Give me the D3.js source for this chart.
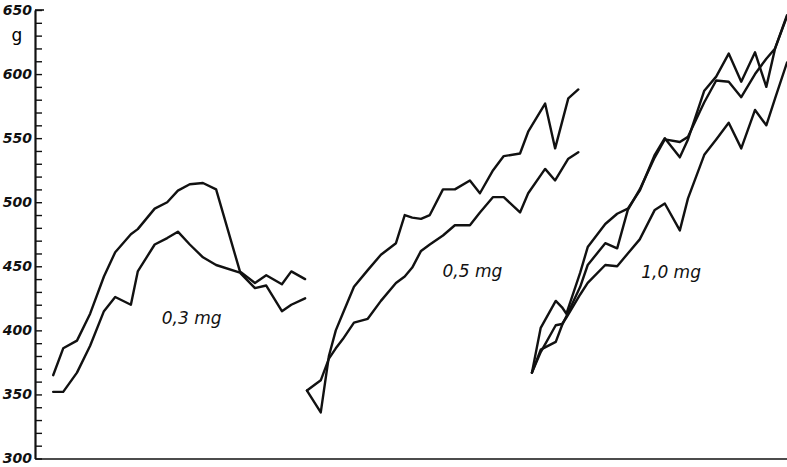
<!DOCTYPE html>
<html>
<head>
<meta charset="utf-8">
<script src="https://cdn.jsdelivr.net/npm/d3@7"></script>
<style>
    html, body { margin: 0; padding: 0; background: #fff; }
    svg { display: block; }
    .curve { fill: none; stroke: #111; stroke-width: 2.4; stroke-linejoin: round; stroke-linecap: round; }
    .axis path, .axis line { stroke: #111; }
    .axis text { font-family: "DejaVu Sans", sans-serif; font-style: italic; font-weight: bold; font-size: 14px; fill: #111; }
    .dose-label { font-family: "DejaVu Sans", sans-serif; font-style: italic; font-size: 17px; fill: #111; }
</style>
</head>
<body>
<svg id="chart"></svg>
<script>
// body weight (g) of the animals against time, three dose groups

const doseLabels = ['0,3 mg', '0,5 mg', '1,0 mg'];

// 0,3 mg group
const daysLow = [2.9, 4.5, 6.7, 8.8, 11.0, 12.8, 15.3, 16.4, 19.1, 21.1, 22.8, 24.7, 26.8, 28.9, 32.7, 35.1, 36.9, 39.4, 40.9, 43.1];
const weightLowA = [365, 386, 392, 413, 442, 461, 475, 479, 495, 500, 509, 514, 515, 510, 446, 437, 443, 436, 446, 440];
const weightLowB = [352, 352, 367, 388, 415, 426, 420, 446, 467, 472, 477, 467, 457, 451, 445, 433, 435, 415, 420, 425];

// 0,5 mg group
const daysMid = [43.4, 45.6, 46.9, 48.0, 49.1, 50.9, 53.1, 55.2, 57.6, 59.0, 60.2, 61.6, 63.0, 65.1, 67.0, 69.4, 71.0, 73.1, 74.8, 77.4, 78.7, 81.4, 83.0, 85.1, 86.7];
const weightMidA = [353, 336, 380, 400, 413, 434, 447, 459, 468, 490, 488, 487, 490, 510, 510, 517, 507, 525, 536, 538, 555, 577, 542, 581, 588];
const weightMidB = [353, 361, 378, 386, 393, 406, 409, 423, 437, 442, 449, 462, 467, 474, 482, 482, 492, 504, 504, 492, 507, 526, 517, 534, 539];

// 1,0 mg group
const daysHigh = [79.3, 80.7, 83.1, 84.1, 84.8, 87.0, 88.2, 91.0, 92.9, 94.6, 96.5, 98.9, 100.5, 102.9, 104.2, 106.8, 108.7, 110.7, 112.7, 114.9, 116.7, 118.1, 120];
const weightHighA = [367, 402, 423, 418, 413, 445, 465, 483, 491, 495, 509, 537, 550, 535, 549, 587, 598, 616, 594, 617, 590, 620, 645];
const weightHighB = [367, 385, 391, 404, 411, 434, 451, 468, 464, 494, 510, 535, 549, 547, 551, 578, 595, 594, 582, 600, 612, 620, 646];
const weightHighC = [367, 383, 404, 405, 410, 428, 437, 451, 450, 460, 471, 494, 499, 478, 503, 537, 549, 562, 542, 572, 560, 581, 609];

const yMajorTicks = [300, 350, 400, 450, 500, 550, 600, 650];
const yUnit = 'g';

const width = 787;
const height = 467;

const svg = d3.select('#chart')
    .attr('width', width)
    .attr('height', height);

const x = d3.scaleLinear()
    .domain([0, 120])
    .range([35, 787]);

const y = d3.scaleLinear()
    .domain([300, 650])
    .range([458.5, 10]);

// x baseline, no ticks
svg.append('g')
    .attr('class', 'axis')
    .attr('transform', `translate(0,${y(300)})`)
    .call(d3.axisBottom(x).tickValues([]).tickSizeOuter(0))
    .select('.domain')
    .attr('stroke-width', 1.6);

// small ticks every 10 g on the inside of the axis
svg.append('g')
    .attr('class', 'axis')
    .attr('transform', `translate(${x(0)},0)`)
    .call(d3.axisRight(y).tickValues(d3.range(300, 651, 10)).tickSize(7).tickSizeOuter(0).tickFormat(''))
    .call(g => g.select('.domain').remove())
    .selectAll('line')
    .attr('stroke-width', 1.4);

// labels and the axis line itself
svg.append('g')
    .attr('class', 'axis')
    .attr('transform', `translate(${x(0)},0)`)
    .call(d3.axisLeft(y).tickValues(yMajorTicks).tickSize(0).tickSizeOuter(0).tickPadding(3))
    .call(g => g.select('.domain').attr('stroke-width', 2.2));

// top cap tick is a bit longer
svg.append('line')
    .attr('x1', x(0)).attr('x2', x(0) + 9)
    .attr('y1', y(650)).attr('y2', y(650))
    .attr('stroke', '#111')
    .attr('stroke-width', 1.6);

svg.append('text')
    .attr('x', 17)
    .attr('y', 41)
    .attr('text-anchor', 'middle')
    .style('font-family', '"DejaVu Sans", sans-serif')
    .style('font-size', '17px')
    .text(yUnit);

const line = d3.line()
    .x(d => x(d[0]))
    .y(d => y(d[1]));

const groups = [
    { days: daysLow, series: [weightLowA, weightLowB] },
    { days: daysMid, series: [weightMidA, weightMidB] },
    { days: daysHigh, series: [weightHighA, weightHighB, weightHighC] }
];

groups.forEach(group => {
    group.series.forEach(values => {
        svg.append('path')
            .datum(group.days.map((d, i) => [d, values[i]]))
            .attr('class', 'curve')
            .attr('d', line);
    });
});

// dose labels sit inside each group of curves
const labelAt = [[25.0, 405], [69.8, 442], [101.5, 441]];
doseLabels.forEach((label, i) => {
    svg.append('text')
        .attr('class', 'dose-label')
        .attr('x', x(labelAt[i][0]))
        .attr('y', y(labelAt[i][1]))
        .attr('text-anchor', 'middle')
        .text(label);
});
</script>
</body>
</html>
